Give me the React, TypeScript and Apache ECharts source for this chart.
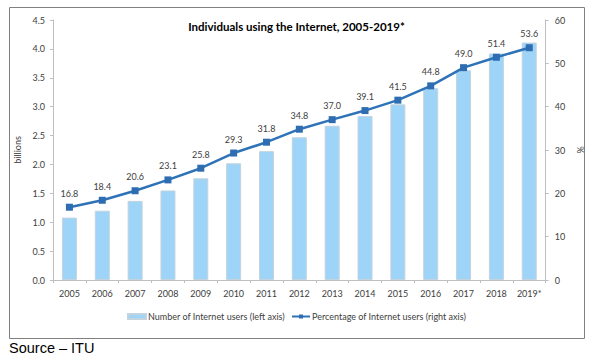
import React, { useEffect, useRef } from "react";
import * as echarts from "echarts";

const years = ["2005","2006","2007","2008","2009","2010","2011","2012","2013","2014","2015","2016","2017","2018","2019*"];
const usersBillions = [1.08, 1.20, 1.37, 1.55, 1.76, 2.02, 2.23, 2.47, 2.67, 2.84, 3.04, 3.32, 3.63, 3.92, 4.11];
const percentUsers = [16.8, 18.4, 20.6, 23.1, 25.8, 29.3, 31.8, 34.8, 37.0, 39.1, 41.5, 44.8, 49.0, 51.4, 53.6];
const titleText = "Individuals using the Internet, 2005-2019*";
const barName = "Number of Internet users (left axis)";
const lineName = "Percentage of Internet users (right axis)";
const sourceText = "Source – ITU";

export default function App() {
  const ref = useRef<HTMLDivElement>(null);
  useEffect(() => {
    document.body.style.margin = "0";
    const chart = echarts.init(ref.current!, null, { renderer: "svg" });
    const font = "Lato";
    const fs = 9;
    chart.setOption({
      animation: false,
      backgroundColor: "#ffffff",
      textStyle: { fontFamily: font },
      title: {
        text: titleText,
        left: "center",
        top: 15,
        textStyle: { fontFamily: font, fontSize: 11.5, fontWeight: "bold", color: "#000" },
      },
      grid: { left: 53, right: 45, top: 20, bottom: 79, containLabel: false },
      legend: {
        left: "center",
        top: 307,
        itemGap: 6,
        itemWidth: 18,
        itemHeight: 5,
        textStyle: { fontFamily: font, fontSize: 9, color: "#404040", padding: [0, 0, 0, -3] },
        data: [
          { name: barName, icon: "rect" },
          { name: lineName },
        ],
      },
      xAxis: {
        type: "category",
        data: years,
        boundaryGap: true,
        axisLine: { lineStyle: { color: "#bfbfbf" } },
        axisTick: { show: true, length: 3, lineStyle: { color: "#bfbfbf" } },
        axisLabel: { interval: 0, fontFamily: font, fontSize: fs, color: "#404040", margin: 9 },
      },
      yAxis: [
        {
          type: "value",
          min: 0,
          max: 4.5,
          interval: 0.5,
          name: "billions",
          nameLocation: "middle",
          nameRotate: 90,
          nameGap: 24,
          nameTextStyle: { fontFamily: font, fontSize: fs, color: "#404040" },
          splitLine: { show: false },
          axisLine: { show: true, lineStyle: { color: "#bfbfbf" } },
          axisTick: { show: true, length: 3, lineStyle: { color: "#bfbfbf" } },
          axisLabel: { fontFamily: font, fontSize: fs, color: "#404040", margin: 8, formatter: (v: number) => v.toFixed(1) },
        },
        {
          type: "value",
          min: 0,
          max: 60,
          interval: 10,
          name: "%",
          nameLocation: "middle",
          nameRotate: 90,
          nameGap: 24,
          nameTextStyle: { fontFamily: font, fontSize: fs, color: "#404040" },
          splitLine: { show: false },
          axisLine: { show: true, lineStyle: { color: "#bfbfbf" } },
          axisTick: { show: true, length: 3, lineStyle: { color: "#bfbfbf" } },
          axisLabel: { fontFamily: font, fontSize: fs, color: "#404040", margin: 9 },
        },
      ],
      series: [
        {
          name: barName,
          type: "bar",
          data: usersBillions,
          yAxisIndex: 0,
          barWidth: 15,
          itemStyle: {
            color: "#9dd4f8",
            borderColor: "#c4d3de",
            borderWidth: 1,
          },
        },
        {
          name: lineName,
          type: "line",
          data: percentUsers,
          yAxisIndex: 1,
          symbol: "rect",
          symbolSize: 7,
          lineStyle: { color: "#2e73b8", width: 2.5 },
          itemStyle: { color: "#2e6db1" },
          label: {
            show: true,
            position: "top",
            distance: 6,
            fontFamily: font,
            fontSize: fs,
            color: "#404040",
            formatter: (p: any) => Number(p.value).toFixed(1),
          },
        },
      ],
      graphic: [
        {
          type: "rect",
          shape: { x: 9.5, y: 7.5, width: 575, height: 331 },
          style: { fill: "none", stroke: "#808080", lineWidth: 1 },
          silent: true,
        },
        {
          type: "text",
          left: 9,
          top: 340,
          style: { text: sourceText, fontFamily: "Liberation Sans", fontSize: 14.5, fill: "#000" },
        },
      ],
    });
    return () => chart.dispose();
  }, []);
  return <div ref={ref} style={{ width: 593, height: 359, position: "absolute", left: 0, top: 0 }} />;
}
